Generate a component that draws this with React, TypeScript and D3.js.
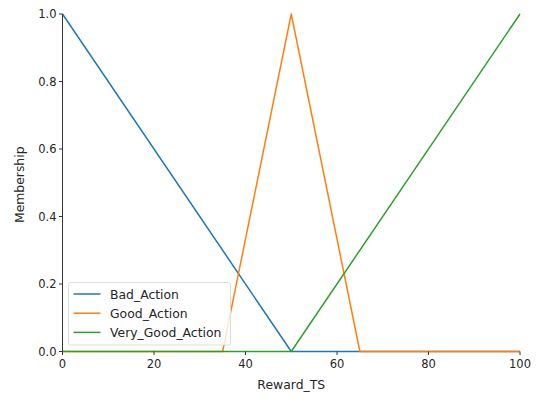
import React from "react";
import * as d3 from "d3";

const xDomain = [0, 100];
const badX = [0, 50, 100];
const badY = [1, 0, 0];
const goodX = [0, 35, 50, 65, 100];
const goodY = [0, 0, 1, 0, 0];
const veryGoodX = [0, 50, 100];
const veryGoodY = [0, 0, 1];
const xTicks = [0, 20, 40, 60, 80, 100];
const yTicks = [0, 0.2, 0.4, 0.6, 0.8, 1.0];
const seriesNames = ["Bad_Action", "Good_Action", "Very_Good_Action"];
const colors = ["#1f77b4", "#ff7f0e", "#2ca02c"];

export default function App() {
  const W = 539, H = 401;
  const left = 62.5, right = 520, top = 14, bottom = 351.5;
  const x = d3.scaleLinear().domain(xDomain).range([left, right]);
  const y = d3.scaleLinear().domain([0, 1]).range([bottom, top]);
  const line = d3.line<[number, number]>().x(d => x(d[0])).y(d => y(d[1]));
  const series = [
    badX.map((v, i) => [v, badY[i]] as [number, number]),
    goodX.map((v, i) => [v, goodY[i]] as [number, number]),
    veryGoodX.map((v, i) => [v, veryGoodY[i]] as [number, number]),
  ];
  const font = "DejaVu Sans, sans-serif";
  const fs = 11.5;
  const lfs = 12.4;
  const textColor = "#262626";
  return (
    <svg width={W} height={H} style={{ position: "absolute", left: 0, top: 0, background: "#fff" }} fontFamily={font}>
      {series.map((s, i) => (
        <path key={i} d={line(s) || ""} fill="none" stroke={colors[i]} strokeWidth={1.5} strokeLinejoin="round" />
      ))}
      <line x1={left} x2={left} y1={top} y2={bottom} stroke="#333" strokeWidth={1} />
      {xTicks.map(t => (
        <g key={"x" + t}>
          <line x1={x(t)} x2={x(t)} y1={bottom} y2={bottom + 3.5} stroke="#333" />
          <text x={x(t)} y={bottom + 16} textAnchor="middle" fontSize={fs} fill={textColor}>{t}</text>
        </g>
      ))}
      {yTicks.map(t => (
        <g key={"y" + t}>
          <line x1={left - 3.5} x2={left} y1={y(t)} y2={y(t)} stroke="#333" />
          <text x={left - 6} y={y(t) + 4} textAnchor="end" fontSize={fs} fill={textColor}>{t.toFixed(1)}</text>
        </g>
      ))}
      <text x={(left + right) / 2} y={389} textAnchor="middle" fontSize={lfs} fill={textColor}>Reward_TS</text>
      <text transform={`translate(24,${(top + bottom) / 2 + 2}) rotate(-90)`} textAnchor="middle" fontSize={lfs} fill={textColor}>Membership</text>
      <g>
        <rect x={68.5} y={282.5} width={162} height={62.5} rx={2} fill="#fff" fillOpacity={0.8} stroke="#ddd" />
        {seriesNames.map((n, i) => (
          <g key={n}>
            <line x1={73.5} x2={100.5} y1={294 + i * 19.2} y2={294 + i * 19.2} stroke={colors[i]} strokeWidth={1.5} />
            <text x={110} y={298.5 + i * 19.2} fontSize={lfs} fill={textColor}>{n}</text>
          </g>
        ))}
      </g>
    </svg>
  );
}
